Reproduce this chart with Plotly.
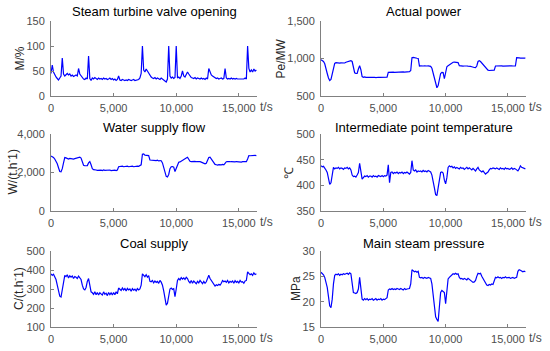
import plotly.graph_objects as go

# time axis (s), sampled every 100 s
T = list(range(0, 16500, 100))

valve = [45,62,48,42,38,35,32,36,40,76,
         44,40,43,45,42,44,40,42,39,41,
         42,40,55,44,40,36,34,33,36,34,
         80,35,31,36,34,37,35,33,36,34,
         35,33,36,34,35,33,34,36,33,35,
         32,34,31,33,40,32,31,33,32,31,
         32,31,33,32,31,32,33,31,32,32,
         33,36,45,100,52,48,54,50,45,42,
         38,36,35,37,34,36,35,33,36,34,
         32,30,28,34,100,40,36,38,35,37,
         100,36,38,35,40,50,40,38,42,48,
         44,40,37,36,35,37,34,36,35,34,
         36,34,35,33,36,34,55,46,42,40,
         38,37,35,36,34,35,36,34,35,55,
         36,34,35,34,36,34,35,34,35,34,
         34,35,34,35,34,36,34,100,55,48,
         52,48,54,50,52]

power = [985,975,960,930,880,800,740,705,720,800,
         880,935,945,940,943,938,942,940,945,940,
         950,955,960,965,970,960,900,810,800,800,
         860,905,850,760,750,755,748,752,750,748,
         750,752,748,750,746,752,750,748,750,752,
         750,748,752,750,815,818,815,820,818,816,
         818,820,817,819,820,818,821,819,820,822,
         820,825,840,1010,1015,1008,1005,1003,1000,900,
         902,898,900,903,898,900,902,898,895,870,
         800,720,640,610,640,730,800,815,812,730,
         820,890,905,915,930,945,950,952,948,950,
         945,905,900,902,898,900,903,900,898,900,
         895,890,882,880,878,900,960,970,960,940,
         920,900,880,873,845,840,842,838,842,845,
         900,902,900,903,900,902,898,900,902,900,
         900,902,900,903,900,902,900,1010,1012,1008,
         1005,1008,1003,1006,1004]

water = [2850,2830,2780,2700,2600,2450,2250,2050,2040,2200,
         2500,2780,2760,2720,2700,2730,2710,2720,2700,2720,
         2740,2760,2780,2800,2750,2600,2380,2350,2340,2360,
         2500,2570,2400,2200,2150,2120,2130,2110,2120,2100,
         2120,2100,2130,2110,2120,2100,2110,2130,2100,2120,
         2110,2120,2100,2130,2300,2320,2310,2330,2300,2320,
         2310,2330,2300,2320,2310,2330,2300,2320,2310,2330,
         2320,2340,2400,2950,2970,2900,2880,2870,2880,2650,
         2640,2620,2630,2610,2620,2640,2600,2620,2610,2500,
         2300,2000,1800,1770,1900,2200,2300,2310,2280,2050,
         2250,2450,2530,2550,2600,2650,2700,2720,2750,2790,
         2700,2580,2560,2570,2550,2580,2560,2570,2550,2560,
         2540,2500,2460,2450,2480,2650,2780,2800,2700,2600,
         2450,2420,2400,2380,2410,2390,2400,2420,2400,2480,
         2560,2570,2550,2560,2570,2550,2560,2550,2570,2560,
         2550,2560,2540,2560,2550,2570,2560,2700,2880,2870,
         2880,2890,2870,2890,2880]

temp = [438,436,437,434,430,425,412,402,405,420,
        435,432,434,433,435,432,434,433,431,434,
        433,435,432,434,430,420,417,418,416,420,
        425,443,428,412,415,418,417,419,416,418,
        418,416,419,417,418,416,419,418,417,419,
        417,419,418,420,440,405,425,426,423,425,
        424,426,423,425,424,426,423,425,424,426,
        423,422,425,448,430,428,430,426,428,427,
        428,426,429,427,428,426,429,427,426,420,
        410,395,382,380,395,415,425,426,424,410,
        403,415,435,438,436,437,434,436,433,435,
        434,432,435,433,434,431,433,435,432,434,
        432,430,433,431,428,432,435,430,428,426,
        428,425,422,424,426,430,433,432,434,433,
        432,434,433,431,434,432,433,431,434,432,
        433,431,432,434,431,433,432,430,428,432,
        438,435,434,433,432]

coal = [380,372,378,365,350,320,285,262,258,290,
        340,372,365,375,358,370,362,368,355,366,
        362,355,368,358,350,320,300,295,308,340,
        355,320,285,280,272,285,270,282,268,280,
        275,268,285,272,278,265,282,270,280,268,
        282,270,285,275,305,300,292,305,295,302,
        290,303,295,300,288,302,294,299,290,302,
        295,300,320,380,372,365,375,362,370,340,
        338,345,332,342,335,340,330,345,336,320,
        290,250,215,225,260,300,305,298,302,260,
        300,345,355,348,360,352,358,350,362,355,
        340,332,345,330,342,335,328,340,332,345,
        335,328,340,330,338,360,372,355,345,335,
        325,315,322,318,325,320,330,345,338,342,
        335,345,332,340,336,342,330,344,335,340,
        332,345,336,338,330,342,345,390,382,375,
        380,372,385,376,380]

pressure = [25.8,25.6,25.3,24.8,24.0,22.8,21.0,19.2,18.8,20.5,
            23.5,25.2,25.4,25.3,25.5,25.2,25.4,25.3,25.5,25.4,
            25.5,25.6,25.4,25.7,25.5,24.0,21.8,21.7,21.6,21.8,
            22.5,24.8,23.0,20.5,20.3,20.6,20.4,20.6,20.3,20.5,
            20.4,20.6,20.3,20.5,20.6,20.3,20.5,20.4,20.6,20.3,
            20.5,20.4,20.6,20.8,22.3,22.5,22.4,22.6,22.4,22.5,
            22.4,22.6,22.5,22.4,22.6,22.5,22.3,22.6,22.4,22.5,
            22.5,22.6,23.5,26.3,26.1,25.9,26.0,25.8,26.0,24.8,
            24.7,24.8,24.6,24.8,24.7,24.6,24.8,24.7,24.6,23.5,
            21.5,19.0,17.0,16.5,16.1,19.0,21.8,22.2,22.0,21.8,
            19.6,22.5,24.5,24.8,25.0,25.3,25.5,25.4,25.6,25.4,
            25.5,24.8,24.5,24.6,24.4,24.6,24.5,24.3,24.6,24.4,
            24.3,24.0,23.8,23.9,24.2,25.0,25.6,25.5,25.6,25.0,
            24.5,24.0,23.5,23.3,23.2,23.4,23.3,23.5,23.4,24.0,
            24.8,24.7,24.9,24.7,24.8,24.6,24.8,24.7,24.9,24.7,
            24.7,24.8,24.6,24.7,24.8,24.6,24.7,24.8,26.0,26.3,
            26.2,26.0,25.9,26.0,25.9]

titles = ["Steam turbine valve opening", "Actual power",
          "Water supply flow", "Intermediate point temperature",
          "Coal supply", "Main steam pressure"]
ylabels = ["M/%", "Pe/MW", "W/(t.h<sup>-</sup>1)", "℃", "C/(t.h<sup>-</sup>1)", "MPa"]
series = [valve, power, water, temp, coal, pressure]
yranges = [(0, 150), (500, 1500), (0, 4000), (350, 500), (100, 500), (15, 30)]
ydticks = [50, 500, 2000, 50, 100, 5]

W, H = 550, 351
cols_px = [(51, 257), (321, 526)]
rows_px = [(21, 96), (134, 211), (251, 327)]
title_y = [12, 127, 243]
ylab_x = [[20, 281], [11, 288], [18, 296]]

fig = go.Figure()
axis_col = "#808080"
lab_col = "#4d4d4d"
font = "Liberation Sans, Arial, sans-serif"
annotations = []
for k in range(6):
    r, c = divmod(k, 2)
    n = k + 1
    xa = "x" if n == 1 else f"x{n}"
    ya = "y" if n == 1 else f"y{n}"
    fig.add_trace(go.Scatter(x=T, y=series[k], mode="lines",
                             line=dict(color="#0000ff", width=1.2),
                             xaxis=xa, yaxis=ya, showlegend=False))
    x0, x1 = cols_px[c]
    y0, y1 = rows_px[r]
    xkey = "xaxis" if n == 1 else f"xaxis{n}"
    ykey = "yaxis" if n == 1 else f"yaxis{n}"
    fig.layout[xkey] = dict(domain=[x0 / W, x1 / W], anchor=ya, range=[0, 16450],
                            dtick=5000, tick0=0, tickformat=",d", showline=True,
                            linecolor=axis_col, linewidth=1, ticks="inside", ticklen=3,
                            tickcolor=axis_col, showgrid=False, zeroline=False,
                            automargin=False,
                            tickfont=dict(size=11, color=lab_col, family=font),
                            ticklabelstandoff=2)
    fig.layout[ykey] = dict(domain=[1 - y1 / H, 1 - y0 / H], anchor=xa, range=list(yranges[k]),
                            dtick=ydticks[k], tickformat=",d",
                            showline=True, linecolor=axis_col, linewidth=1, ticks="inside",
                            ticklen=3, tickcolor=axis_col, showgrid=False, zeroline=False,
                            automargin=False,
                            tickfont=dict(size=11, color=lab_col, family=font),
                            ticklabelstandoff=3)
    annotations.append(dict(text=titles[k], x=(x0 + x1) / 2 / W, y=1 - title_y[r] / H,
                            xref="paper", yref="paper", xanchor="center", yanchor="middle",
                            showarrow=False, font=dict(size=13, color="#000000", family=font)))
    annotations.append(dict(text="t/s", x=(x1 + 1) / W, y=1 - (y1 + 11) / H,
                            xref="paper", yref="paper", xanchor="left", yanchor="middle",
                            showarrow=False, font=dict(size=12, color=lab_col, family=font)))
    annotations.append(dict(text=ylabels[k], x=ylab_x[r][c] / W, y=1 - (y0 + y1) / 2 / H,
                            xref="paper", yref="paper", xanchor="center", yanchor="middle",
                            textangle=-90, showarrow=False,
                            font=dict(size=12, color="#262626", family=font)))

fig.update_layout(width=W, height=H, margin=dict(l=0, r=0, t=0, b=0),
                  paper_bgcolor="white", plot_bgcolor="white",
                  annotations=annotations, font=dict(family=font))
fig.write_html("out.html", config={"displayModeBar": False, "staticPlot": True},
               post_script="document.body.style.margin='0';document.body.style.overflow='hidden';")
